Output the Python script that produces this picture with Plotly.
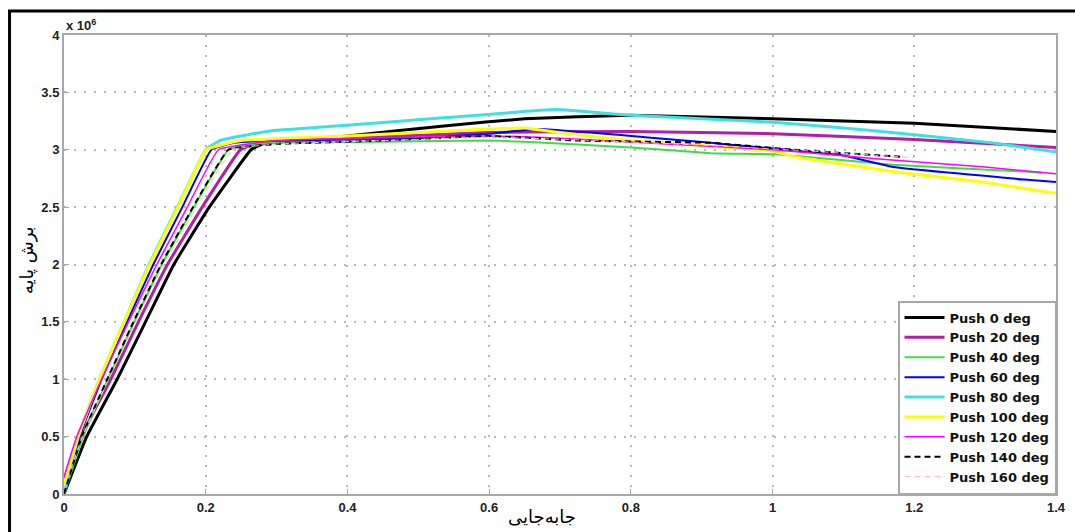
import plotly.graph_objects as go

# ---- data (y in units of 1e6) ----
names = ["Push 0 deg", "Push 20 deg", "Push 40 deg", "Push 60 deg", "Push 80 deg",
         "Push 100 deg", "Push 120 deg", "Push 140 deg", "Push 160 deg"]

x_0 = [0, 0.032, 0.075, 0.115, 0.155, 0.205, 0.264, 0.28, 0.4, 0.54, 0.65, 0.8, 1.0, 1.2, 1.4]
y_0 = [0, 0.5, 1.0, 1.5, 2.0, 2.5, 3.0, 3.05, 3.12, 3.21, 3.27, 3.30, 3.27, 3.23, 3.16]

x_20 = [0, 0.024, 0.066, 0.105, 0.146, 0.195, 0.249, 0.27, 0.4, 0.6, 0.8, 1.0, 1.2, 1.4]
y_20 = [0.12, 0.5, 1.0, 1.5, 2.0, 2.5, 3.0, 3.05, 3.10, 3.15, 3.16, 3.14, 3.09, 3.02]

x_40 = [0, 0.027, 0.062, 0.099, 0.138, 0.183, 0.232, 0.26, 0.3, 0.45, 0.6, 0.65, 0.8, 0.913, 1.006, 1.17, 1.355, 1.38]
y_40 = [0, 0.5, 1.0, 1.5, 2.0, 2.5, 3.0, 3.04, 3.06, 3.07, 3.08, 3.07, 3.02, 2.97, 2.96, 2.87, 2.81, 2.80]

x_60 = [0, 0.022, 0.053, 0.089, 0.126, 0.167, 0.208, 0.24, 0.3, 0.5, 0.6, 0.67, 0.82, 0.913, 1.1, 1.17, 1.355, 1.4]
y_60 = [0, 0.5, 1.0, 1.5, 2.0, 2.5, 3.0, 3.06, 3.08, 3.10, 3.14, 3.18, 3.11, 3.06, 2.95, 2.85, 2.74, 2.72]

x_80 = [0, 0.020, 0.050, 0.085, 0.120, 0.160, 0.200, 0.22, 0.25, 0.3, 0.37, 0.54, 0.694, 0.8, 1.0, 1.1, 1.2, 1.31, 1.4]
y_80 = [0, 0.5, 1.0, 1.5, 2.0, 2.5, 3.0, 3.08, 3.12, 3.17, 3.20, 3.28, 3.35, 3.30, 3.24, 3.19, 3.13, 3.06, 2.98]

x_100 = [0, 0.020, 0.050, 0.085, 0.121, 0.161, 0.201, 0.25, 0.4, 0.5, 0.65, 0.7, 0.8, 1.0, 1.03, 1.17, 1.295, 1.4]
y_100 = [0.08, 0.5, 1.0, 1.5, 2.0, 2.5, 3.0, 3.08, 3.12, 3.15, 3.19, 3.15, 3.08, 2.99, 2.94, 2.81, 2.72, 2.62]

x_120 = [0, 0.018, 0.053, 0.091, 0.131, 0.174, 0.218, 0.3, 0.6, 0.7, 0.85, 1.0, 1.15, 1.3, 1.4]
y_120 = [0.15, 0.5, 1.0, 1.5, 2.0, 2.5, 3.0, 3.08, 3.12, 3.10, 3.05, 3.00, 2.92, 2.85, 2.79]

x_140 = [0, 0.025, 0.061, 0.098, 0.137, 0.182, 0.232, 0.3, 0.45, 0.6, 0.726, 0.913, 1.03, 1.1, 1.18]
y_140 = [0, 0.5, 1.0, 1.5, 2.0, 2.5, 3.0, 3.05, 3.08, 3.12, 3.08, 3.06, 3.00, 2.97, 2.94]

x_160 = [0, 0.026, 0.063, 0.101, 0.141, 0.187, 0.238, 0.3, 0.45, 0.6, 0.75, 0.9, 1.05, 1.2]
y_160 = [0.05, 0.5, 1.0, 1.5, 2.0, 2.5, 3.0, 3.05, 3.08, 3.11, 3.08, 3.04, 2.99, 2.93]

xs = [x_0, x_20, x_40, x_60, x_80, x_100, x_120, x_140, x_160]
ys = [y_0, y_20, y_40, y_60, y_80, y_100, y_120, y_140, y_160]

colors = ["#000000", "#b01fa8", "#40dd40", "#0000ff", "#40e0e0",
          "#ffff00", "#ff00ff", "#000000", "#ffb8b8"]
widths = [3, 3, 2, 2, 3, 3, 1.5, 2, 1]
dashes = ["solid"] * 7 + ["6px,4px", "6px,4px"]

x_ticks = [0, 0.2, 0.4, 0.6, 0.8, 1.0, 1.2, 1.4]
x_ticktext = ["0", "0.2", "0.4", "0.6", "0.8", "1", "1.2", "1.4"]
y_ticks = [0, 0.5, 1, 1.5, 2, 2.5, 3, 3.5, 4]
y_ticktext = ["0", "0.5", "1", "1.5", "2", "2.5", "3", "3.5", "4"]

fig = go.Figure()
for n, x, y, c, w, d in zip(names, xs, ys, colors, widths, dashes):
    fig.add_trace(go.Scatter(x=x, y=y, mode="lines", name=n, line_shape="spline",
                             line=dict(color=c, width=w, dash=d, smoothing=0.3)))

axis_common = dict(showline=True, linecolor="#a8a8a8", linewidth=2, mirror=True,
                   showgrid=True, gridcolor="#b8b8b8", griddash="2px,8px", gridwidth=1.5,
                   ticks="inside", ticklen=5, tickcolor="#a8a8a8", zeroline=False,
                   tickfont=dict(family="Liberation Sans", size=13, color="#222222",
                                 weight="bold"))

fig.update_xaxes(range=[0, 1.4], tickvals=x_ticks, ticktext=x_ticktext, **axis_common)
fig.update_yaxes(range=[0, 4], tickvals=y_ticks, ticktext=y_ticktext, **axis_common)

fig.update_layout(
    width=1075, height=532,
    margin=dict(l=64, r=9, t=35, b=38),
    paper_bgcolor="white", plot_bgcolor="white",
    legend=dict(x=1, y=0, xanchor="right", yanchor="bottom",
                bgcolor="white", bordercolor="#a8a8a8", borderwidth=1.5,
                font=dict(family="DejaVu Sans", size=13, color="#111111", weight="bold"),
                tracegroupgap=0, itemwidth=40),
    annotations=[
        dict(text="x 10<sup>6</sup>", xref="paper", yref="paper", x=0.0, y=1.0,
             xanchor="left", yanchor="bottom", showarrow=False,
             font=dict(family="Liberation Sans", size=13, color="#222222", weight="bold")),
        dict(text="جابه‌جایی", xref="paper", yref="paper", x=0.482, y=-0.022,
             xanchor="center", yanchor="top", showarrow=False,
             font=dict(family="DejaVu Sans", size=18, color="#000000")),
        dict(text="برش پایه", xref="paper", yref="paper", x=-0.037, y=0.51,
             xanchor="center", yanchor="middle", textangle=-90, showarrow=False,
             font=dict(family="DejaVu Sans", size=18, color="#000000")),
    ],
    shapes=[
        dict(type="rect", xref="paper", yref="paper",
             x0=-0.0549, x1=1.05, y0=-0.2, y1=1.0523,
             line=dict(color="black", width=3), layer="above"),
    ],
)

fig.write_html("out.html")
